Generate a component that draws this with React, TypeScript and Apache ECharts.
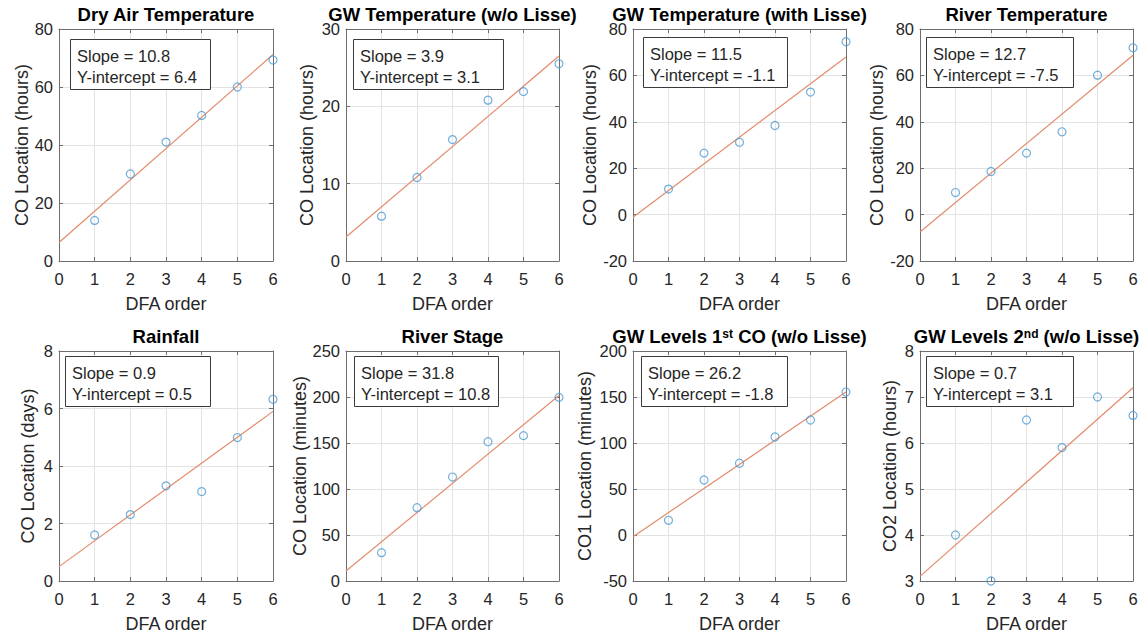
import React, { useEffect, useRef } from "react";
import * as echarts from "echarts";

// ---------- data ----------
const dfaOrder = [1, 2, 3, 4, 5, 6];

const panelTitles = [
  "Dry Air Temperature",
  "GW Temperature (w/o Lisse)",
  "GW Temperature (with Lisse)",
  "River Temperature",
  "Rainfall",
  "River Stage",
  "GW Levels 1{s|st} CO (w/o Lisse)",
  "GW Levels 2{s|nd} (w/o Lisse)",
];

const yAxisNames = [
  "CO Location (hours)",
  "CO Location (hours)",
  "CO Location (hours)",
  "CO Location (hours)",
  "CO Location (days)",
  "CO Location (minutes)",
  "CO1 Location (minutes)",
  "CO2 Location (hours)",
];

const xAxisName = "DFA order";

const yMin = [0, 0, -20, -20, 0, 0, -50, 3];
const yMax = [80, 30, 80, 80, 8, 250, 200, 8];
const yStep = [20, 10, 20, 20, 2, 50, 50, 1];

const dryAirTemp = [14, 30, 41, 50.2, 60, 69.3];
const gwTempWithoutLisse = [5.8, 10.8, 15.7, 20.8, 21.9, 25.5];
const gwTempWithLisse = [11, 26.5, 31.2, 38.4, 52.8, 74.5];
const riverTemp = [9.5, 18.6, 26.5, 35.7, 60.1, 71.9];
const rainfall = [1.6, 2.31, 3.31, 3.11, 4.99, 6.32];
const riverStage = [30.8, 79.7, 113, 151.4, 158, 199.6];
const gwLevels1st = [16, 59.8, 78, 106.5, 125, 155.4];
const gwLevels2nd = [4.0, 3.0, 6.5, 5.9, 7.0, 6.6];

const panelValues = [
  dryAirTemp,
  gwTempWithoutLisse,
  gwTempWithLisse,
  riverTemp,
  rainfall,
  riverStage,
  gwLevels1st,
  gwLevels2nd,
];

const slopes = [10.8, 3.9, 11.5, 12.7, 0.9, 31.8, 26.2, 0.7];
const intercepts = [6.4, 3.1, -1.1, -7.5, 0.5, 10.8, -1.8, 3.1];
// fitted line read at x = 0 and x = 6
const fitAtStart = [6.4, 3.1, -1.1, -7.5, 0.5, 10.8, -1.8, 3.1];
const fitAtEnd = [71.2, 26.5, 67.9, 68.7, 5.9, 201.6, 155.4, 7.2];

// ---------- layout ----------
const gridLefts = [59, 346, 633, 920, 59, 346, 633, 920];
const gridWidths = [214, 213, 213, 213, 214, 213, 213, 213];
const rowTops = [29, 351];
const rowHeights = [232, 230];
const titleTops = [6, 328];
const yNameGaps = [28, 30, 32, 34, 22, 37, 39, 21];
const boxX = [70, 353, 643, 926, 65, 354, 641, 926];
const boxY = [39, 39, 37, 37, 356, 356, 356, 356];
const boxW = [140, 150, 144, 147, 145, 144, 146, 147];

const FONT = "'Liberation Sans', Arial, Helvetica, sans-serif";
const TEXT = "#262626";
const AXIS = "#6e6e6e";
const GRID = "#e3e3e3";
const MARKER = "#4f9bd3";
const FIT = "#e38b6c";

export default function App() {
  const ref = useRef<HTMLDivElement>(null);

  useEffect(() => {
    if (!ref.current) return;
    const chart = echarts.init(ref.current, undefined, { renderer: "svg" });

    const grids: any[] = [];
    const xAxes: any[] = [];
    const yAxes: any[] = [];
    const series: any[] = [];
    const titles: any[] = [];
    const graphics: any[] = [];

    for (let i = 0; i < 8; i++) {
      const row = i < 4 ? 0 : 1;
      grids.push({
        left: gridLefts[i],
        top: rowTops[row],
        width: gridWidths[i],
        height: rowHeights[row],
        containLabel: false,
        outerBoundsMode: "none",
        show: true,
        backgroundColor: "#fff",
        borderWidth: 0,
      });

      const xCommon = {
        type: "value",
        gridIndex: i,
        min: 0,
        max: 6,
        interval: 1,
      };
      xAxes.push({
        ...xCommon,
        position: "bottom",
        name: xAxisName,
        nameLocation: "middle",
        nameGap: 34,
        nameTextStyle: { fontFamily: FONT, fontSize: 18, color: TEXT },
        axisLine: { show: true, onZero: false, lineStyle: { color: AXIS, width: 1 } },
        axisTick: { show: true, inside: true, length: 4, lineStyle: { color: AXIS } },
        axisLabel: { show: true, margin: 9, fontFamily: FONT, fontSize: 16.5, color: TEXT },
        splitLine: { show: true, lineStyle: { color: GRID, width: 1 } },
      });
      xAxes.push({
        ...xCommon,
        position: "top",
        axisLine: { show: true, onZero: false, lineStyle: { color: AXIS, width: 1 } },
        axisTick: { show: true, inside: true, length: 4, lineStyle: { color: AXIS } },
        axisLabel: { show: false },
        splitLine: { show: false },
      });

      const yCommon = {
        type: "value",
        gridIndex: i,
        min: yMin[i],
        max: yMax[i],
        interval: yStep[i],
      };
      yAxes.push({
        ...yCommon,
        position: "left",
        name: yAxisNames[i],
        nameLocation: "middle",
        nameGap: yNameGaps[i],
        nameTextStyle: { fontFamily: FONT, fontSize: 18, color: TEXT },
        axisLine: { show: true, onZero: false, lineStyle: { color: AXIS, width: 1 } },
        axisTick: { show: true, inside: true, length: 4, lineStyle: { color: AXIS } },
        axisLabel: {
          show: true,
          margin: 6,
          fontFamily: FONT,
          fontSize: 16.5,
          lineHeight: 14,
          color: TEXT,
        },
        splitLine: { show: true, lineStyle: { color: GRID, width: 1 } },
      });
      yAxes.push({
        ...yCommon,
        position: "right",
        axisLine: { show: true, onZero: false, lineStyle: { color: AXIS, width: 1 } },
        axisTick: { show: true, inside: true, length: 4, lineStyle: { color: AXIS } },
        axisLabel: { show: false },
        splitLine: { show: false },
      });

      series.push({
        type: "line",
        xAxisIndex: 2 * i,
        yAxisIndex: 2 * i,
        data: [
          [0, fitAtStart[i]],
          [6, fitAtEnd[i]],
        ],
        showSymbol: false,
        symbol: "none",
        lineStyle: { color: FIT, width: 1.2 },
        silent: true,
        z: 2,
      });
      series.push({
        type: "scatter",
        xAxisIndex: 2 * i,
        yAxisIndex: 2 * i,
        data: dfaOrder.map((x, k) => [x, panelValues[i][k]]),
        symbol: "circle",
        symbolSize: 8,
        itemStyle: { color: "rgba(255,255,255,0)", borderColor: MARKER, borderWidth: 1.2 },
        clip: false,
        z: 3,
      });

      titles.push({
        text: panelTitles[i],
        left: gridLefts[i] + gridWidths[i] / 2,
        top: titleTops[row],
        textAlign: "center",
        padding: 0,
        textStyle: {
          fontFamily: FONT,
          fontSize: 18.5,
          fontWeight: "bold",
          color: "#000",
          lineHeight: 16,
          rich: {
            s: {
              fontFamily: FONT,
              fontSize: 12,
              fontWeight: "bold",
              color: "#000",
              verticalAlign: "top",
              lineHeight: 16,
              padding: [0, 0, 8, 0],
            },
          },
        },
      });

      graphics.push({
        type: "rect",
        left: boxX[i],
        top: boxY[i],
        shape: { width: boxW[i], height: 50 },
        style: { fill: "#fff", stroke: "#3a3a3a", lineWidth: 1 },
        z: 100,
      });
      graphics.push({
        type: "text",
        left: boxX[i] + 7,
        top: boxY[i] + 8,
        style: {
          text: `Slope = ${slopes[i]}`,
          font: `16.5px ${FONT}`,
          fill: TEXT,
        },
        z: 101,
      });
      graphics.push({
        type: "text",
        left: boxX[i] + 7,
        top: boxY[i] + 29,
        style: {
          text: `Y-intercept = ${intercepts[i]}`,
          font: `16.5px ${FONT}`,
          fill: TEXT,
        },
        z: 101,
      });
    }

    chart.setOption({
      animation: false,
      backgroundColor: "#fff",
      title: titles,
      grid: grids,
      xAxis: xAxes,
      yAxis: yAxes,
      series,
      graphic: graphics,
    });

    return () => chart.dispose();
  }, []);

  return (
    <div
      ref={ref}
      style={{ position: "absolute", left: 0, top: 0, width: 1142, height: 636, background: "#fff" }}
    />
  );
}
